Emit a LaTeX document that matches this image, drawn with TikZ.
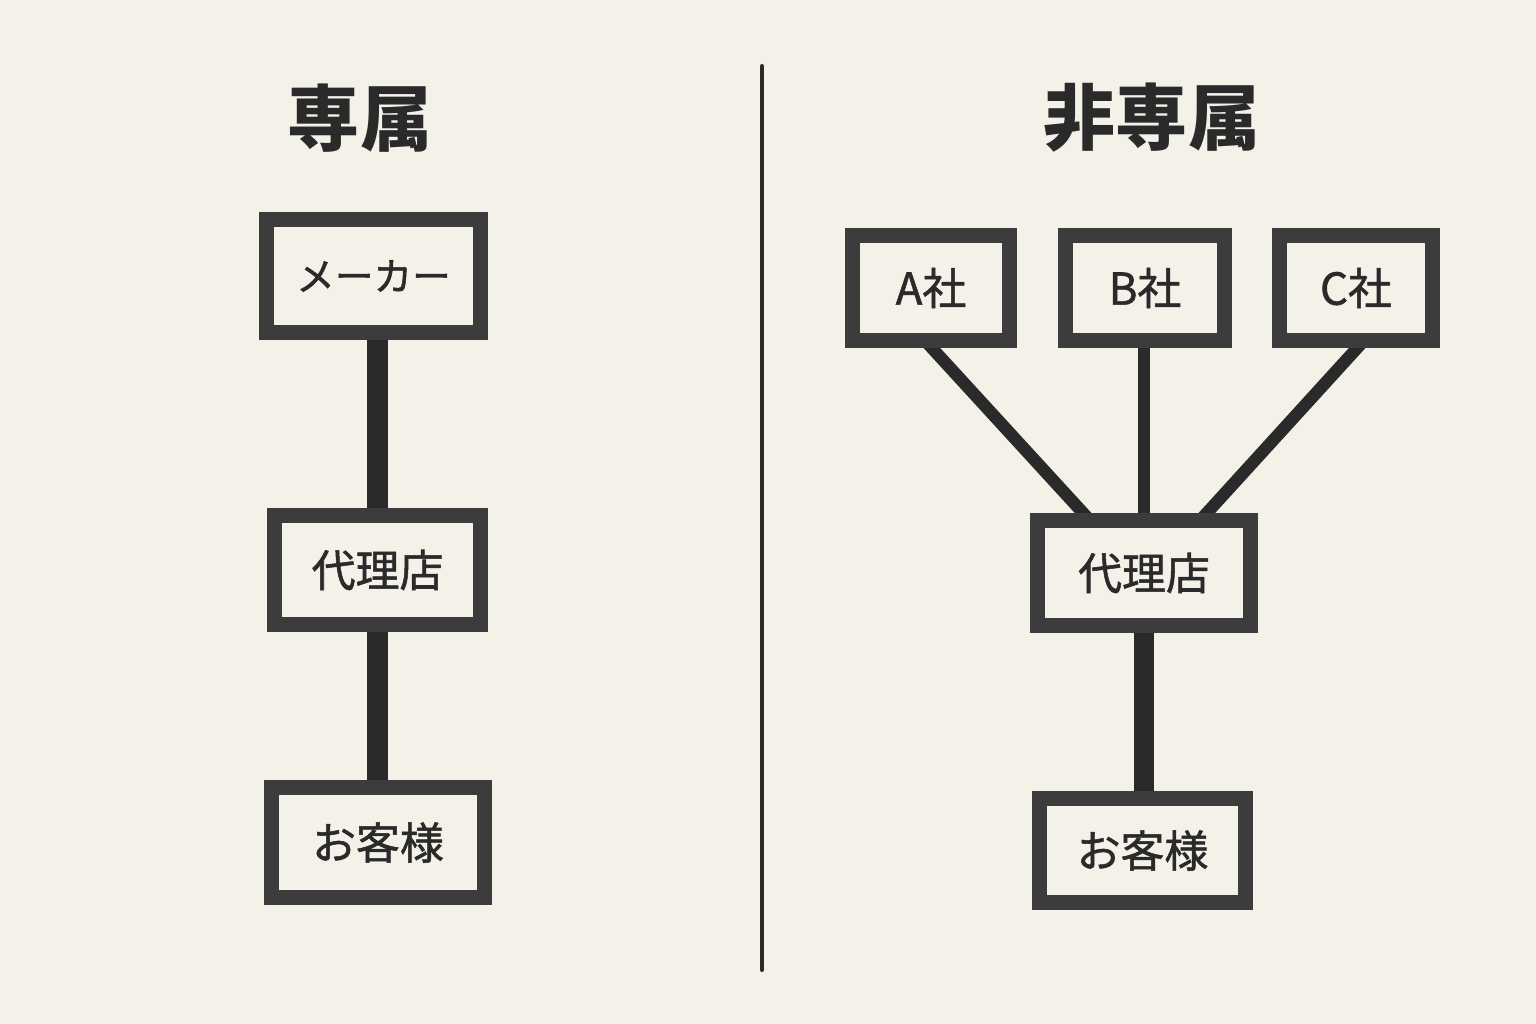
\documentclass[tikz,border=0pt]{standalone}
\usepackage{fontspec}
\newfontfamily\cjk{Noto Sans CJK JP}
\newfontfamily\cjkm[FakeBold=1.2]{Noto Sans CJK JP}
\usetikzlibrary{calc}
\definecolor{paper}{HTML}{F4F1E9}
\definecolor{ink}{HTML}{2A2A2A}
\definecolor{boxink}{HTML}{3C3C3C}
\tikzset{
  box/.style={draw=boxink, line width=8.5pt, outer sep=0pt, rectangle, inner sep=0pt, fill=paper,
              font=\cjkm\fontsize{22pt}{26pt}\selectfont, text=ink},
  cobox/.style={box, font=\cjkm\fontsize{25pt}{30pt}\selectfont},
  bigbox/.style={box, font=\cjkm\fontsize{25pt}{30pt}\selectfont},
  title/.style={font=\cjk\bfseries\fontsize{41pt}{48pt}\selectfont, text=ink, inner sep=0pt},
  thick link/.style={draw=ink, line width=11.5pt},
  thin link/.style={draw=ink, line width=7pt},
  divider/.style={draw=ink, line width=2.3pt, line cap=round}
}
\begin{document}
\begin{tikzpicture}[x=0.02cm,y=-0.02cm]
  \fill[paper] (0,0) rectangle (1536,1024);
  \useasboundingbox (0,0) rectangle (1536,1024);

  % titles
  \node[title] (t1) at (360,118) {専属};
  \node[title] (t2) at (1152,118) {非専属};

  % divider
  \coordinate (dtop) at (762,66);
  \coordinate (dbot) at (762,970);
  \draw[divider] (dtop) -- (dbot);

  % positions
  \coordinate (pmaker) at (373.5,276);
  \coordinate (pdl) at (377.5,570);
  \coordinate (pkl) at (378,842.5);
  \coordinate (pA) at (931,288);
  \coordinate (pB) at (1145,288);
  \coordinate (pC) at (1356,288);
  \coordinate (pdr) at (1144,573);
  \coordinate (pkr) at (1142.5,850.5);

  % nodes
  \node[box, minimum width=4.28cm, minimum height=2.26cm] (maker) at (pmaker) {メーカー};
  \node[bigbox, minimum width=4.12cm, minimum height=2.18cm] (dl) at (pdl) {代理店};
  \node[bigbox, minimum width=4.26cm, minimum height=2.20cm] (kl) at (pkl) {お客様};

  \node[cobox, minimum width=3.14cm, minimum height=2.10cm] (A) at (pA) {A社};
  \node[cobox, minimum width=3.18cm, minimum height=2.10cm] (B) at (pB) {B社};
  \node[cobox, minimum width=3.06cm, minimum height=2.10cm] (C) at (pC) {C社};
  \node[bigbox, minimum width=4.26cm, minimum height=2.10cm] (dr) at (pdr) {代理店};
  \node[bigbox, minimum width=4.12cm, minimum height=2.08cm] (kr) at (pkr) {お客様};

  % connectors
  \draw[thick link] (dl.north |- maker.south) -- (dl.north);
  \draw[thick link] (dl.south) -- (dl.south |- kl.north);
  \draw[thin link] ($(A.south)+(-6,0)$) -- ($(dr.north)+(-54,0)$);
  \draw[thin link] (B.south -| dr.north) -- (dr.north);
  \draw[thin link] ($(C.south)+(8,0)$) -- ($(dr.north)+(56,0)$);
  \draw[thick link] (dr.south) -- (dr.south |- kr.north);

  % redraw borders on top of connector ends
  \foreach \n in {maker,dl,kl,A,B,C,dr,kr}{
    \draw[draw=boxink, line width=8.5pt] (\n.north west) rectangle (\n.south east);
  }
\end{tikzpicture}
\end{document}
